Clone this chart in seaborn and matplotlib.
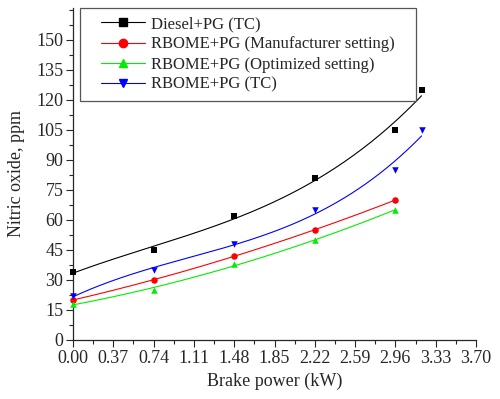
import numpy as np
import pandas as pd
import matplotlib
matplotlib.use('Agg')
import matplotlib.pyplot as plt
from matplotlib.patches import Rectangle
from matplotlib.ticker import MultipleLocator
import seaborn as sns

# Data
power_long = [0.00, 0.74, 1.48, 2.22, 2.96, 3.20]
power_short = [0.00, 0.74, 1.48, 2.22, 2.96]
diesel_tc = [34, 45, 62, 81, 105, 125]
rbome_manuf = [20, 30, 42, 55, 70]
rbome_opt = [18, 25, 38, 50, 65]
rbome_tc = [22, 35, 48, 65, 85, 105]

series = [
    ("Diesel+PG (TC)", power_long, diesel_tc, "black", "s"),
    ("RBOME+PG (Manufacturer setting)", power_short, rbome_manuf, "red", "o"),
    ("RBOME+PG (Optimized setting)", power_short, rbome_opt, "#00ee00", "^"),
    ("RBOME+PG (TC)", power_long, rbome_tc, "blue", "v"),
]

sns.set_style("ticks")
plt.rcParams['font.family'] = ['Liberation Serif', 'DejaVu Serif']

fig = plt.figure(figsize=(5.0, 3.99), dpi=100)
ax = fig.add_axes([0.146, 0.148, 0.806, 0.832])

handles = []
for name, x, y, color, marker in series:
    # smooth polynomial fit through the points
    coef = np.polyfit(x, y, 3 if len(x) > 5 else 2)
    xs = np.linspace(min(x), max(x), 200)
    fit_df = pd.DataFrame({"x": xs, "y": np.polyval(coef, xs)})
    sns.lineplot(data=fit_df, x="x", y="y", ax=ax, color=color, lw=0.8, legend=False)
    pts = pd.DataFrame({"x": x, "y": y})
    sns.scatterplot(data=pts, x="x", y="y", ax=ax, color=color, marker=marker,
                    s=22, edgecolor=color, linewidth=0, legend=False, zorder=3, clip_on=False)
    h, = ax.plot([], [], color=color, lw=0.8, marker=marker, ms=6, mec=color, label=name)
    handles.append(h)

ax.set_xlim(0, 3.70)
ax.set_ylim(0, 166)
ax.set_xticks(np.arange(0, 3.71, 0.37))
ax.set_xticklabels([f"{v:.2f}" for v in np.arange(0, 3.71, 0.37)])
ax.set_yticks(np.arange(0, 151, 15))
ax.xaxis.set_minor_locator(MultipleLocator(0.185))
ax.yaxis.set_minor_locator(MultipleLocator(7.5))
ax.tick_params(which='major', direction='out', length=5, width=0.8, labelsize=13, pad=2)
ax.tick_params(which='minor', direction='out', length=3, width=0.8)
for s in ['top', 'right']:
    ax.spines[s].set_visible(False)
for s in ['left', 'bottom']:
    ax.spines[s].set_linewidth(0.9)

ax.set_xlabel("Brake power (kW)", fontsize=13, labelpad=4)
ax.set_ylabel("Nitric oxide, ppm", fontsize=13, labelpad=8)

leg = ax.legend(handles=handles, loc='upper left', bbox_to_anchor=(0.05, 1.0),
                fontsize=12, frameon=False, handlelength=2.6,
                borderpad=0.5, borderaxespad=0, labelspacing=0.25, handletextpad=0.35)

# legend frame: wider horizontal padding than matplotlib allows
fig.canvas.draw()
bb = leg.get_window_extent().transformed(fig.transFigure.inverted())
padx = 13 / 500
frame = Rectangle((bb.x0 - padx, bb.y0), bb.width + 2 * padx, bb.height,
                  transform=fig.transFigure, fill=False, edgecolor='#555555',
                  linewidth=0.9, zorder=5)
fig.patches.append(frame)

fig.savefig("out.png", dpi=100)
